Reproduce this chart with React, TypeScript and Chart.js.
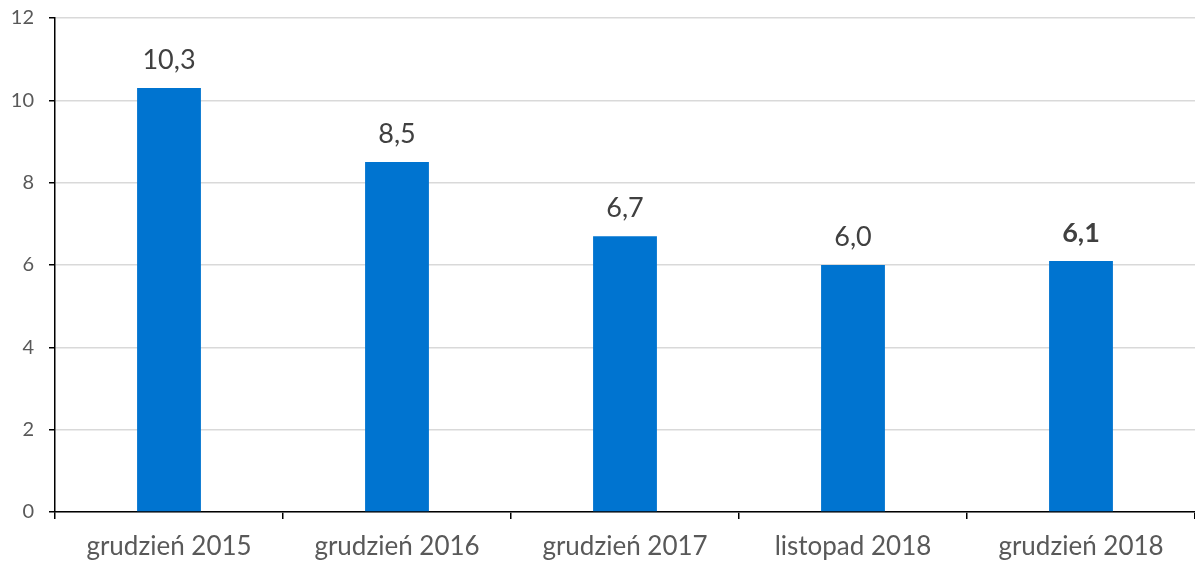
import React, { useEffect, useRef } from "react";
import { Chart, registerables } from "chart.js";

Chart.register(...registerables);

const categories = ["grudzień 2015", "grudzień 2016", "grudzień 2017", "listopad 2018", "grudzień 2018"];
const values = [10.3, 8.5, 6.7, 6.0, 6.1];
const valueLabels = ["10,3", "8,5", "6,7", "6,0", "6,1"];
const boldLabel = [false, false, false, false, true];
const yTicks = [0, 2, 4, 6, 8, 10, 12];

const FONT = "Lato, 'Open Sans', sans-serif";

const labelPlugin = {
  id: "valueLabels",
  afterDatasetsDraw(chart: any) {
    const ctx = chart.ctx;
    const meta = chart.getDatasetMeta(0);
    ctx.save();
    ctx.textAlign = "center";
    ctx.textBaseline = "alphabetic";
    ctx.fillStyle = "#404040";
    meta.data.forEach((bar: any, i: number) => {
      ctx.font = `${boldLabel[i] ? "bold " : ""}27px ${FONT}`;
      ctx.fillText(valueLabels[i], bar.x, bar.y - 19);
    });
    ctx.restore();
  },
};

export default function App() {
  const ref = useRef<HTMLCanvasElement>(null);
  useEffect(() => {
    if (!ref.current) return;
    const chart = new Chart(ref.current, {
      type: "bar",
      data: {
        labels: categories,
        datasets: [
          {
            data: values,
            backgroundColor: "#0074d0",
            barPercentage: 0.28,
            categoryPercentage: 1,
          },
        ],
      },
      options: {
        animation: false,
        responsive: false,
        maintainAspectRatio: false,
        layout: { padding: { top: 18, right: 0, left: 0, bottom: 0 } },
        plugins: { legend: { display: false }, tooltip: { enabled: false } },
        scales: {
          x: {
            grid: {
              offset: true,
              drawOnChartArea: false,
              color: "#000000",
              tickLength: 7,
              lineWidth: 1.5,
            },
            border: { color: "#000000", width: 1.5 },
            ticks: {
              color: "#595959",
              font: { family: FONT, size: 26 },
              padding: 12,
              maxRotation: 0,
            },
            afterFit: (s: any) => {
              s.height = 55;
              s.paddingLeft = 0;
              s.paddingRight = 0;
            },
          },
          y: {
            min: 0,
            max: 12,
            afterBuildTicks: (s: any) => {
              s.ticks = yTicks.map((v) => ({ value: v }));
            },
            grid: {
              color: "#d9d9d9",
              lineWidth: 1.5,
              tickColor: "#000000",
              tickLength: 6,
            },
            border: { color: "#000000", width: 1.5 },
            ticks: {
              color: "#595959",
              font: { family: FONT, size: 20 },
              padding: 15,
            },
            afterFit: (s: any) => {
              s.width = 55;
              s.paddingTop = 0;
              s.paddingBottom = 0;
            },
          },
        },
      },
      plugins: [labelPlugin],
    });
    return () => chart.destroy();
  }, []);
  return (
    <div style={{ position: "fixed", left: 0, top: 0, width: 1195, height: 567, background: "#fff" }}>
      <canvas ref={ref} width={1195} height={567} style={{ width: 1195, height: 567 }} />
    </div>
  );
}
